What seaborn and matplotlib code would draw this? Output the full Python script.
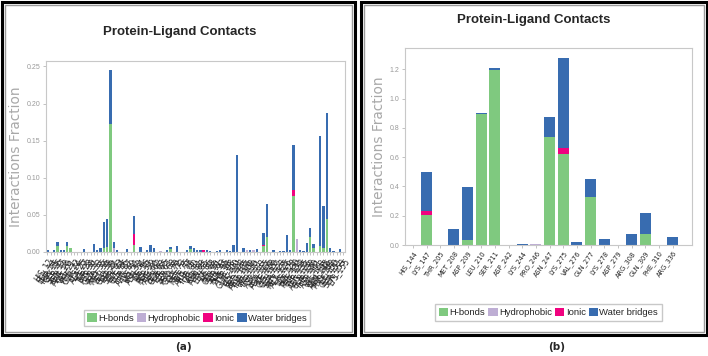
import numpy as np
import matplotlib
matplotlib.use("Agg")
import matplotlib.pyplot as plt
from matplotlib.patches import Rectangle, Patch
import seaborn as sns

# interaction types and colours (Desmond SID style)
types = ["H-bonds", "Hydrophobic", "Ionic", "Water bridges"]
colors = ["#7fc97f", "#beaed4", "#f0027f", "#386cb0"]

# ---- panel (a): many residues, labels unreadable in the source ----
res_a = """HIS_12 LEU_14 THR_15 GLY_16 SER_17 ASN_18 ARG_20 VAL_21 PHE_22 GLU_24
LYS_25 ALA_27 ILE_28 TYR_30 ASP_31 GLN_33 PRO_35 MET_36 LEU_38 GLU_39
TRP_41 SER_43 GLY_44 CYS_46 THR_47 ARG_49 LYS_51 VAL_52 ASN_54 ILE_56
HIS_57 ASP_59 PHE_60 ALA_62 LEU_63 GLN_65 TYR_67 SER_68 PRO_70 GLU_72
GLY_73 MET_75 LYS_77 ARG_78 THR_80 VAL_81 ASP_83 ASN_85 LEU_86 ILE_88
HIS_90 GLU_91 SER_93 ALA_95 PHE_96 TYR_98 GLN_100 LYS_101 GLY_103 PRO_105
ARG_106 THR_108 VAL_110 TRP_111 ASP_113 LEU_115 ASN_116 ILE_118 CYS_120 GLU_121
SER_123 MET_125 ALA_126 LYS_128 HIS_130 PHE_131 GLY_133 TYR_135 ARG_136 GLN_138
THR_140 ASP_141 VAL_143 LEU_145 ASN_146 PRO_148 ILE_150 GLU_151 SER_153 LYS_155""".split()

hbond_a = [0, 0, 0, .008, 0, 0, .008, .005, 0, 0,
           0, 0, 0, 0, 0, 0, 0, .005, .007, .172,
           0, 0, 0, 0, 0, 0, .010, 0, 0, 0,
           0, 0, 0, 0, 0, 0, 0, .004, 0, 0,
           0, 0, 0, .004, 0, 0, 0, 0, 0, 0,
           0, 0, 0, 0, 0, 0, 0, 0, 0, 0,
           0, 0, 0, 0, 0, .008, .020, 0, 0, 0,
           0, 0, 0, 0, .075, 0, 0, 0, 0, .020,
           .005, 0, .008, .006, .045, 0, 0, 0, 0, 0]
hydro_a = [0, 0, 0, 0, 0, 0, 0, 0, 0, 0,
           0, 0, 0, 0, 0, 0, 0, 0, 0, 0,
           .005, 0, 0, 0, 0, 0, 0, 0, 0, 0,
           0, 0, 0, 0, .002, 0, 0, 0, 0, 0,
           0, 0, 0, 0, 0, 0, 0, 0, 0, 0,
           0, 0, 0, 0, 0, 0, 0, 0, 0, 0,
           .003, 0, .003, 0, 0, 0, 0, 0, 0, 0,
           0, 0, 0, 0, 0, .018, 0, 0, 0, 0,
           0, 0, 0, 0, 0, 0, 0, 0, 0, 0]
ionic_a = [0, 0, 0, 0, 0, 0, 0, 0, 0, 0,
           0, 0, 0, 0, 0, 0, 0, 0, 0, 0,
           0, 0, 0, 0, 0, 0, .014, 0, 0, 0,
           0, 0, 0, 0, 0, 0, 0, 0, 0, 0,
           0, 0, 0, 0, 0, 0, 0, .003, 0, 0,
           0, 0, 0, 0, 0, 0, 0, 0, 0, 0,
           0, 0, 0, 0, 0, .002, 0, 0, 0, 0,
           0, 0, 0, 0, .009, 0, 0, 0, 0, 0,
           0, 0, 0, 0, 0, 0, 0, 0, 0, 0]
water_a = [.003, 0, .003, .005, .003, .003, .006, 0, 0, 0,
           0, .004, 0, 0, .011, .003, .005, .035, .037, .073,
           .008, .003, 0, 0, .004, 0, .024, 0, .007, 0,
           .003, .009, .006, 0, 0, 0, .003, .003, 0, .008,
           0, 0, .003, .004, .005, .003, .003, 0, .003, .002,
           0, .002, .003, 0, .003, .002, .010, .130, 0, .006,
           0, .003, 0, .004, 0, .016, .045, 0, .003, 0,
           .002, .002, .023, .003, .060, 0, .003, .002, .012, .012,
           .006, 0, .148, .056, .142, .005, .002, 0, .004, 0]

# ---- panel (b) ----
res_b = ["HIS_144", "LYS_147", "THR_205", "MET_208", "ASP_209", "LEU_210",
         "SER_211", "ASP_242", "LYS_244", "PRO_246", "ASN_247", "LYS_275",
         "VAL_276", "GLN_277", "LYS_278", "ASP_279", "ARG_308", "GLN_309",
         "PHE_310", "ARG_336"]
hbond_b = [0, .205, 0, 0, .035, .895, 1.197, 0, 0, 0,
           .74, .62, 0, .33, 0, 0, 0, .073, 0, 0]
hydro_b = [0, 0, 0, 0, 0, 0, 0, 0, 0, .006,
           0, 0, 0, 0, 0, 0, 0, 0, .003, 0]
ionic_b = [0, .03, 0, 0, 0, 0, 0, 0, 0, 0,
           0, .046, 0, 0, 0, 0, 0, 0, 0, 0]
water_b = [0, .265, 0, .111, .36, .005, .012, 0, .006, 0,
           .136, .614, .023, .119, .039, 0, .073, .147, 0, .057]

sns.set_style("ticks", {"axes.edgecolor": "#c8c8c8"})
narrow = ["Liberation Sans", "DejaVu Sans"]

fig = plt.figure(figsize=(7.08, 3.56), dpi=100)
W, H = 708.0, 356.0


def box(l, t, r, b):
    return [l / W, 1 - b / H, (r - l) / W, (b - t) / H]


def stacked(ax, names, series, width):
    bottom = np.zeros(len(names))
    for vals, col in zip(series, colors):
        sns.barplot(x=names, y=vals, bottom=bottom, color=col, width=width,
                    saturation=1, errorbar=None, linewidth=0, ax=ax)
        bottom = bottom + np.array(vals)
    return bottom.max()


ax_a = fig.add_axes(box(45.7, 61, 345, 252))
top_a = stacked(ax_a, res_a, [hbond_a, hydro_a, ionic_a, water_a], 0.7)
ax_a.set_ylim(0, top_a * 1.05)
ax_a.set_xlim(-0.5, len(res_a) - 0.5)
ax_a.set_yticks([0, 0.05, 0.10, 0.15, 0.20, 0.25])
ax_a.set_yticklabels(["0.00", "0.05", "0.10", "0.15", "0.20", "0.25"])
ax_a.tick_params(axis="x", rotation=55, labelsize=5.5)
for t in ax_a.get_xticklabels():
    t.set_ha("right")
    t.set_rotation_mode("anchor")
ax_a.yaxis.set_label_coords(-0.076, 0.5)

ax_b = fig.add_axes(box(404.7, 48.3, 691.7, 245))
top_b = stacked(ax_b, res_b, [hbond_b, hydro_b, ionic_b, water_b], 0.8)
ax_b.set_ylim(0, top_b * 1.05)
ax_b.set_xlim(-0.6, 20.4)
ax_b.set_yticks([0, 0.2, 0.4, 0.6, 0.8, 1.0, 1.2])
ax_b.tick_params(axis="x", rotation=55, labelsize=4.8)
for t in ax_b.get_xticklabels():
    t.set_ha("right")
    t.set_rotation_mode("anchor")
ax_b.yaxis.set_label_coords(-0.065, 0.5)

for ax in (ax_a, ax_b):
    for s in ax.spines.values():
        s.set_visible(True)
        s.set_color("#c8c8c8")
        s.set_linewidth(0.8)
    ax.tick_params(axis="both", colors="#aaaaaa", length=2.5, width=0.5)
    ax.tick_params(axis="x", labelcolor="#222222", pad=1)
    ax.tick_params(axis="y", labelsize=5, labelcolor="#999999", pad=1.5)
    for t in ax.get_yticklabels():
        t.set_family(narrow)
    ax.set_xlabel("")
    ax.set_ylabel("Interactions Fraction", color="#a8a8a8", fontsize=9.8)

# titles
fig.text(180 / W, 1 - 32 / H, "Protein-Ligand Contacts", ha="center",
         va="center", fontsize=9.5, fontweight="bold", family=narrow)
fig.text(533.5 / W, 1 - 20 / H, "Protein-Ligand Contacts", ha="center",
         va="center", fontsize=9.5, fontweight="bold", family=narrow)

# legends
handles = [Patch(facecolor=c, edgecolor="none") for c in colors]
for cx, cy in [(197, 318), (548.5, 312.5)]:
    fig.legend(handles, types, loc="center", bbox_to_anchor=(cx / W, 1 - cy / H),
               ncol=4, handlelength=1.0, handleheight=1.0, handletextpad=0.15,
               columnspacing=0.3, borderpad=0.35, fancybox=False,
               edgecolor="#bbbbbb", prop={"family": narrow, "size": 6.8})

# panel frames with a grey inner line
for l, r in [(1.5, 355), (361, 706.5)]:
    fig.add_artist(Rectangle((l / W, 1 - 335 / H), (r - l) / W, 333.5 / H,
                             transform=fig.transFigure, fill=False,
                             edgecolor="black", linewidth=2.2))
    fig.add_artist(Rectangle(((l + 3) / W, 1 - 332 / H), (r - l - 6) / W, 327.5 / H,
                             transform=fig.transFigure, fill=False,
                             edgecolor="#9a9a9a", linewidth=1.0))

fig.text(183 / W, 1 - 347 / H, "(a)", ha="center", va="center",
         fontsize=7.5, fontweight="bold")
fig.text(557 / W, 1 - 347 / H, "(b)", ha="center", va="center",
         fontsize=7.5, fontweight="bold")

fig.savefig("out.png", dpi=100)
